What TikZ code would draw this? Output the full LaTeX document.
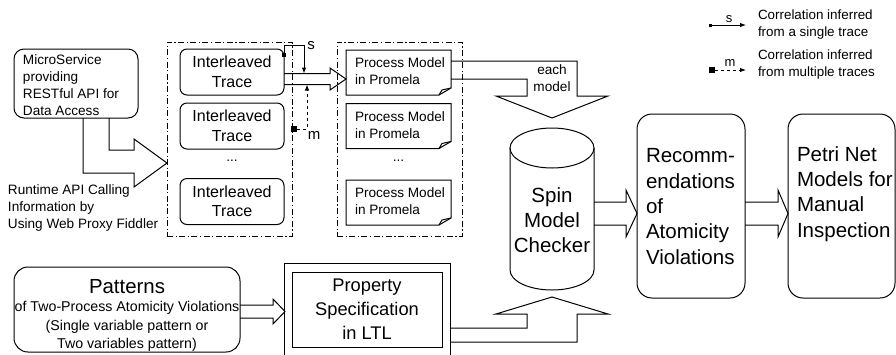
\documentclass[tikz,border=0pt]{standalone}
\usepackage{fontspec}
\setmainfont{Liberation Sans}
\usetikzlibrary{arrows.meta,calc}
\newcommand{\myfs}{\fontsize{13.6}{17}\selectfont}
\newcommand{\myfm}{\fontsize{16}{19.5}\selectfont}
\newcommand{\myfb}{\fontsize{20.5}{25.3}\selectfont}
\newcommand{\myfp}{\fontsize{18.3}{24}\selectfont}
\begin{document}
\begin{tikzpicture}[x=1pt,y=-1pt,line width=1pt,line join=miter,
  every node/.style={inner sep=0pt,outer sep=0pt},
  rbox/.style={draw,rounded corners=#1},
  groupbox/.style={draw,dash pattern=on 6pt off 2.5pt on 1.2pt off 2.5pt,minimum width=125pt,minimum height=194pt},
  tracebox/.style={draw,rounded corners=7pt,minimum width=104pt,minimum height=46pt,align=center,font=\myfm},
  docshape/.style={minimum width=105pt,minimum height=45pt},
  lefttext/.style={anchor=west,align=left},
  tip/.style={-{Latex[length=6pt,width=4.5pt]}}]
\useasboundingbox (0,0) rectangle (896,354);
\clip (0,0) rectangle (896,354);

% MicroService
\node[rbox=10pt,minimum width=124pt,minimum height=69pt] (ms) at (76,83.5) {};
\node[lefttext,font=\myfs] (mst) at (23,85) {MicroService\\providing\\RESTful API for\\Data Access};
\draw (83,118) -- (83,173) -- (134,173) -- (134,187) -- (167,163) -- (134,139) -- (134,150) -- (109,150) -- (109,118);
\node[lefttext,font=\myfs] (rt) at (8,207.5) {Runtime API Calling\\Information by\\Using Web Proxy Fiddler};

% Traces group
\node[groupbox] (tg) at (229.5,139) {};
\node[tracebox] (t1) at (232,72) {Interleaved\\Trace};
\node[tracebox] (t2) at (232,126) {Interleaved\\Trace};
\node[font=\myfs] (tdots) at (232,161) {...};
\node[tracebox] (t3) at (232,201.5) {Interleaved\\Trace};

% arrow traces -> models
\draw (t1.east |- 0,73.5) -- (330,73.5) -- (330,68) -- (346,79) -- (330,90) -- (330,84.5) -- (t1.east |- 0,84.5);

% s connector
\coordinate (sa) at (284,55);
\coordinate (st) at (304,73.5);
\fill (sa) +(-1.6,-1.6) rectangle +(1.6,1.6);
\draw[tip] (sa) |- (st |- 0,45) -- (st);
\node[font=\fontsize{15}{15}\selectfont] (sl) at (311,46) {s};

% m connector
\node[fill,minimum size=6pt] (msq) at (294,129) {};
\coordinate (mt) at (307,84.5);
\draw[tip,dashed] (msq.east) -| (mt);
\node[font=\fontsize{15}{15}\selectfont] (ml) at (314,135) {m};

% Process model group
\node[groupbox] (pg) at (399.5,139) {};
\foreach \n/\y in {p1/72.5,p2/126,p3/202.5}{
  \node[docshape] (\n) at (398.5,\y) {};
  \draw (\n.north west) -- (\n.north east) -- ($(\n.south east)+(0,-7)$) -- ($(\n.south east)+(-12,0)$) -- (\n.south west) -- cycle;
  \draw ($(\n.south east)+(-12,0)$) -- ($(\n.south east)+(-9,-5)$) -- ($(\n.south east)+(0,-7)$);
  \node[lefttext,font=\myfs] (\n t) at ($(\n.west)+(9,-1)$) {Process Model\\in Promela};
}
\node[font=\myfs] (pdots) at (398.5,161) {...};

% each model arrow
\draw (p1.east |- 0,61) -- (577,61) -- (577,96) -- (608,96) -- (552,118) -- (496,96) -- (527,96) -- (527,79) -- (p1.east |- 0,79);
\node[align=center,font=\myfs] (em) at (552,78.5) {each\\model};

% Spin cylinder
\draw (552,148) ellipse [x radius=42pt,y radius=20pt];
\draw (510,148) -- (510,270) .. controls (510,281) and (528.8,290) .. (552,290) .. controls (575.2,290) and (594,281) .. (594,270) -- (594,148);
\node[align=center,font=\myfb] (spin) at (552,220) {Spin\\Model\\Checker};

% Patterns
\node[rbox=14pt,minimum width=226pt,minimum height=85pt] (pat) at (127,309.5) {};
\node[font=\fontsize{20.4}{20.4}\selectfont] (patt) at (127,287) {Patterns};
\node[align=center,font=\fontsize{14.2}{18.5}\selectfont] (patd) at (127,326.5) {of Two-Process Atomicity Violations\\(Single variable pattern or\\Two variables pattern)};

% Patterns -> Property
\draw (pat.east |- 0,305) -- (273,305) -- (273,299) -- (285,311.5) -- (273,324) -- (273,318) -- (pat.east |- 0,318);

% Property
\draw (284,363) -- (284,263) -- (450,263) -- (450,363);
\node[draw,minimum width=150pt,minimum height=75pt,align=center,font=\myfp] (prop) at (367,309.5) {Property\\Specification\\in LTL};

% Property -> Spin
\draw (450,328) -- (527,328) -- (527,314) -- (496,314) -- (552,297) -- (608,314) -- (577,314) -- (577,342) -- (450,342);

% Recommendations
\node[rbox=15pt,minimum width=108pt,minimum height=184pt] (rec) at (691,206) {};
\node[lefttext,font=\myfb] (rect) at (646,206.5) {Recomm-\\endations\\of\\Atomicity\\Violations};
\draw (594,202) -- (626,202) -- (626,190) -- (637,213.5) -- (626,237) -- (626,225) -- (594,225);

% Petri
\node[rbox=15pt,minimum width=107pt,minimum height=184pt] (pn) at (841.5,206) {};
\node[lefttext,font=\myfb] (pnt) at (797,194) {Petri Net\\Models for\\Manual\\Inspection};
\draw (rec.east |- 0,202) -- (778,202) -- (778,190) -- (pn.west |- 0,213.5) -- (778,237) -- (778,225) -- (rec.east |- 0,225);

% Legend
\coordinate (ls1) at (710,25);
\coordinate (le1) at (746,25);
\fill (ls1) +(-1.5,-1.5) rectangle +(1.5,1.5);
\draw[tip] (ls1) -- (le1);
\node[font=\fontsize{13}{13}\selectfont] (lsl) at (729,19) {s};
\node[lefttext,font=\fontsize{13.4}{17}\selectfont] (lst) at (758,25) {Correlation inferred\\from a single trace};
\node[fill,minimum size=6pt] (ls2) at (712,70) {};
\coordinate (le2) at (746,70);
\draw[tip,dashed] (ls2.east) -- (le2);
\node[font=\fontsize{13}{13}\selectfont] (lml) at (730,63) {m};
\node[lefttext,font=\fontsize{13.4}{17}\selectfont] (lmt) at (758,65) {Correlation inferred\\from multiple traces};
\end{tikzpicture}
\end{document}
